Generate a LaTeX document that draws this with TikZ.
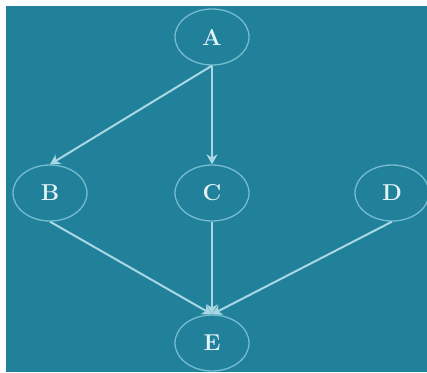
\documentclass[tikz,border=0pt]{standalone}
\usetikzlibrary{shapes.geometric,arrows.meta}
\definecolor{bgteal}{HTML}{21809A}
\definecolor{edgeblue}{HTML}{A8D8E4}
\definecolor{ringblue}{HTML}{74BDD0}
\definecolor{txtblue}{HTML}{E2F3F8}
\tikzset{
  vnode/.style={ellipse, draw=ringblue, line width=1.3pt, minimum width=74pt, minimum height=56pt, inner sep=0pt,
    text=txtblue, font=\fontsize{23}{24}\selectfont\bfseries},
  arr/.style={draw=edgeblue, line width=2pt, -{Stealth[length=10pt,width=11pt]}}
}
\begin{document}
\begin{tikzpicture}[x=1pt,y=-1pt]
\useasboundingbox (0,0) rectangle (427,372);
\fill[white] (0,0) rectangle (427,372);
\fill[bgteal] (6,6) rectangle (427,372);
\node[vnode] (A) at (212,37) {A};
\node[vnode] (B) at (50,193) {B};
\node[vnode] (C) at (212,193) {C};
\node[vnode] (D) at (392,193) {D};
\node[vnode] (E) at (212,343) {E};
\draw[arr] (A.south) -- (B.north);
\draw[arr] (A.south) -- (C.north);
\draw[arr] (B.south) -- (E.north);
\draw[arr] (C.south) -- (E.north);
\draw[arr] (D.south) -- (E.north);
\end{tikzpicture}
\end{document}
